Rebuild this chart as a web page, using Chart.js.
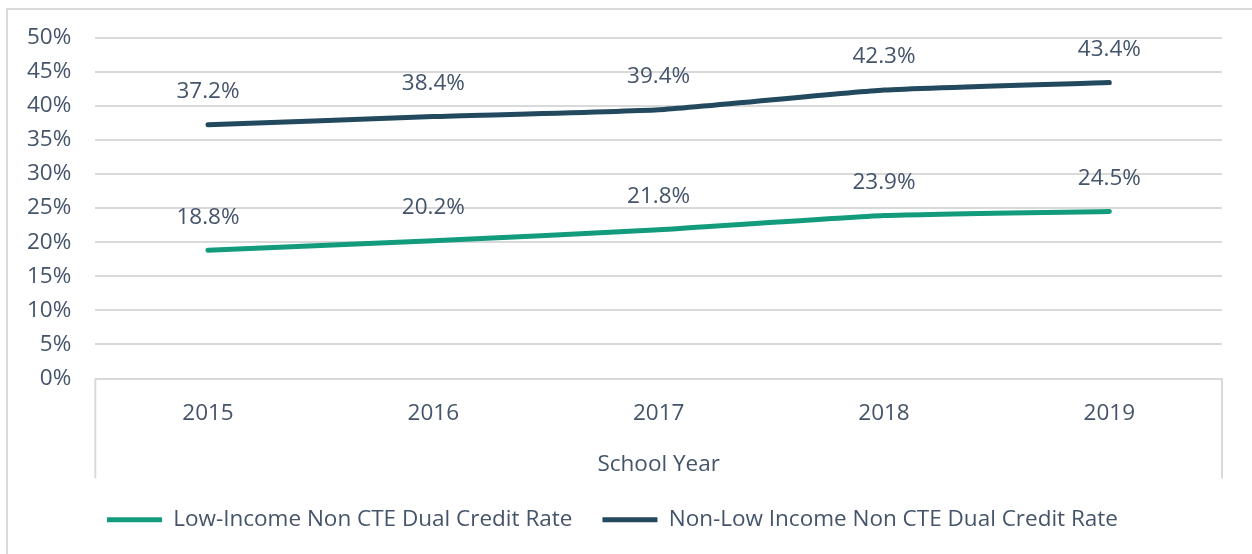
<!DOCTYPE html>
<html>
<head>
<meta charset="utf-8">
<script src="https://cdn.jsdelivr.net/npm/chart.js@4.4.0/dist/chart.umd.min.js"></script>
<style>
    body { margin: 0; background: #ffffff; }
    #wrap {
        position: absolute; left: 0; top: 0; width: 1252px; height: 554px; overflow: hidden;
    }
    #frame {
        position: absolute; left: 6px; top: 8px; width: 1300px; height: 600px;
        border-left: 2px solid #d9d9d9; border-top: 2px solid #d9d9d9;
    }
    canvas { position: absolute; left: 0; top: 0; }
</style>
</head>
<body>
<div id="wrap">
    <div id="frame"></div>
    <canvas id="chartDualCredit" width="1252" height="554"></canvas>
</div>
<script>
// Data
const schoolYears = ['2015', '2016', '2017', '2018', '2019'];
const lowIncomeRate = [18.8, 20.2, 21.8, 23.9, 24.5];
const nonLowIncomeRate = [37.2, 38.4, 39.4, 42.3, 43.4];
const seriesNames = ['Low-Income Non CTE Dual Credit Rate', 'Non-Low Income Non CTE Dual Credit Rate'];

const textColor = '#44546a';
const gridColor = '#d9d9d9';
const fontFamily = '"Open Sans", "Noto Sans", sans-serif';
const fontSize = 22.5;

// Value labels above each point
const pointLabels = {
    id: 'pointLabels',
    afterDatasetsDraw(chart) {
        const ctx = chart.ctx;
        ctx.save();
        ctx.font = fontSize + 'px ' + fontFamily;
        ctx.fillStyle = textColor;
        ctx.textAlign = 'center';
        ctx.textBaseline = 'middle';
        chart.data.datasets.forEach((ds, i) => {
            const meta = chart.getDatasetMeta(i);
            meta.data.forEach((pt, j) => {
                ctx.fillText(ds.data[j].toFixed(1) + '%', pt.x, pt.y - 33);
            });
        });
        ctx.restore();
    }
};

// Side lines of the category axis box
const axisBox = {
    id: 'axisBox',
    afterDraw(chart) {
        const ctx = chart.ctx;
        const area = chart.chartArea;
        const xScale = chart.scales.x;
        ctx.save();
        ctx.strokeStyle = gridColor;
        ctx.lineWidth = 2;
        ctx.beginPath();
        ctx.moveTo(area.left, area.bottom);
        ctx.lineTo(area.left, xScale.bottom);
        ctx.moveTo(area.right, area.bottom);
        ctx.lineTo(area.right, xScale.bottom);
        ctx.stroke();
        ctx.restore();
    }
};

const ctx = document.getElementById('chartDualCredit');

new Chart(ctx, {
    type: 'line',
    data: {
        labels: schoolYears,
        datasets: [{
            label: seriesNames[0],
            data: lowIncomeRate,
            borderColor: '#139b7d',
            backgroundColor: '#139b7d',
            borderWidth: 5,
            borderCapStyle: 'round',
            tension: 0.15,
            pointRadius: 0
        }, {
            label: seriesNames[1],
            data: nonLowIncomeRate,
            borderColor: '#23495f',
            backgroundColor: '#23495f',
            borderWidth: 5,
            borderCapStyle: 'round',
            tension: 0.15,
            pointRadius: 0
        }]
    },
    options: {
        responsive: false,
        animation: false,
        layout: {
            padding: { left: 3, right: 30, top: 31, bottom: 13 }
        },
        plugins: {
            legend: {
                display: true,
                position: 'bottom',
                labels: {
                    usePointStyle: true,
                    pointStyle: 'line',
                    pointStyleWidth: 55,
                    padding: 30,
                    color: textColor,
                    font: { size: fontSize, family: fontFamily }
                }
            },
            tooltip: { enabled: false }
        },
        scales: {
            x: {
                offset: true,
                grid: { display: false },
                border: { display: false },
                ticks: {
                    color: textColor,
                    padding: 14,
                    font: { size: fontSize, family: fontFamily }
                },
                title: {
                    display: true,
                    text: 'School Year',
                    color: textColor,
                    padding: { top: 10, bottom: 0 },
                    font: { size: fontSize, family: fontFamily }
                }
            },
            y: {
                min: 0,
                max: 50,
                grid: {
                    color: gridColor,
                    lineWidth: 2,
                    drawTicks: false
                },
                border: { display: false },
                ticks: {
                    stepSize: 5,
                    color: textColor,
                    padding: 24,
                    font: { size: fontSize, family: fontFamily },
                    callback: function(value) {
                        return value + '%';
                    }
                }
            }
        }
    },
    plugins: [pointLabels, axisBox]
});
</script>
</body>
</html>
